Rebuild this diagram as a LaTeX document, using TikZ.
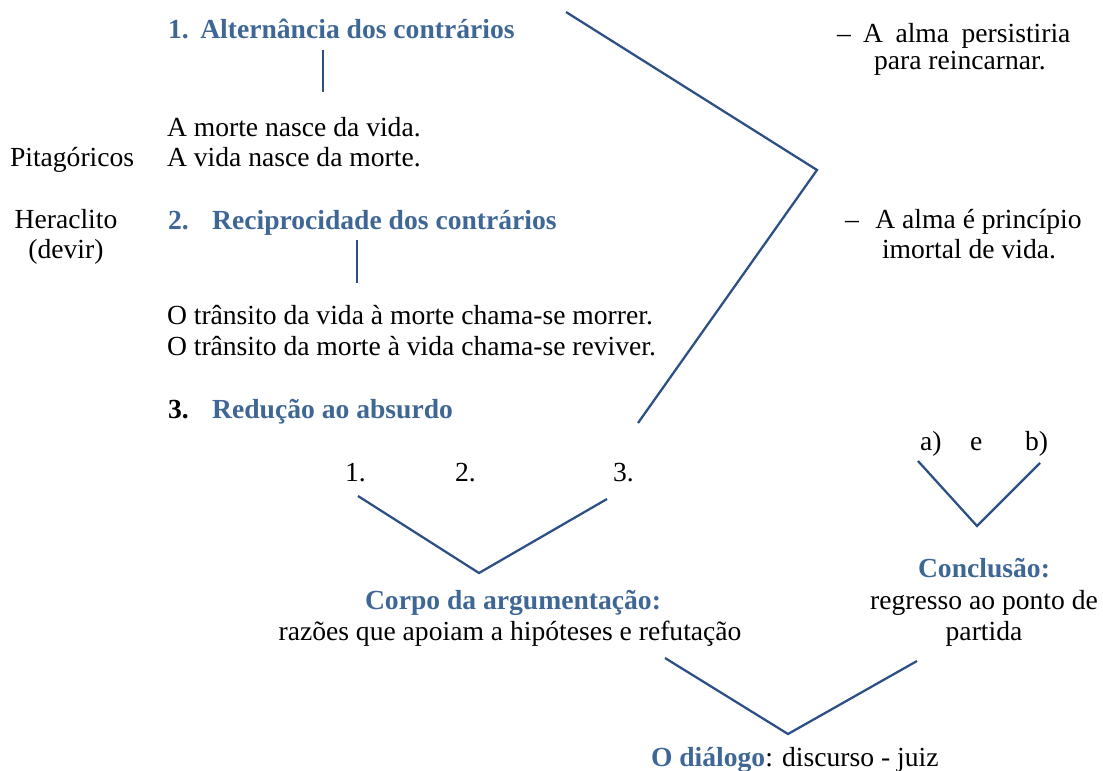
\documentclass[tikz,border=0pt]{standalone}
\usepackage{fontspec}
\setmainfont{Liberation Serif}
\definecolor{tblue}{HTML}{3F6796}
\definecolor{lblue}{HTML}{2C4F86}
\begin{document}
\begin{tikzpicture}[x=0.75pt,y=-0.75pt,
  every node/.style={inner sep=0pt,outer sep=0pt,font=\fontsize{20.7}{23}\selectfont},
  txt/.style={anchor=base west},
  ctxt/.style={anchor=base},
  hd/.style={text=tblue,font=\fontsize{20.7}{23}\selectfont\bfseries},
  link/.style={draw=lblue,line width=1.7pt}]
\useasboundingbox (0,0) rectangle (1103,771);
% left column
\node[txt,hd] (t1) at (168,38) {1.\hspace{0.42em}Alternância dos contrários};
\node[txt] (a1) at (167,136) {A morte nasce da vida.};
\node[txt] (a2) at (167,166) {A vida nasce da morte.};
\node[txt] (pit) at (10,166) {Pitagóricos};
\node[ctxt] (her) at (66,228) {Heraclito};
\node[ctxt] (dev) at (66,258) {(devir)};
\node[txt,hd] (t2) at (168,229) {2.\hspace{0.85em}Reciprocidade dos contrários};
\node[txt] (b1) at (167,324) {O trânsito da vida à morte chama-se morrer.};
\node[txt] (b2) at (167,355) {O trânsito da morte à vida chama-se reviver.};
\node[txt] (t3) at (168,418) {\textbf{3.}\hspace{0.85em}\textcolor{tblue}{\textbf{Redução ao absurdo}}};
\node[txt] (n1) at (345,481) {1.};
\node[txt] (n2) at (455,481) {2.};
\node[txt] (n3) at (613,481) {3.};
\node[ctxt,hd] (corpo) at (513,609) {Corpo da argumentação:};
\node[ctxt] (raz) at (510,640) {razões que apoiam a hipóteses e refutação};
\node[txt] (dia) at (651,766) {\textcolor{tblue}{\textbf{O diálogo}}: discurso - juiz};
% right column
\node[txt] (r1) at (837,42) {–\hspace{0.45em}A\hspace{0.45em}alma\hspace{0.45em}persistiria};
\node[txt] (r2) at (874,69) {para reincarnar.};
\node[txt] (r3) at (845,228) {–\hspace{0.6em}A alma é princípio};
\node[txt] (r4) at (882,258) {imortal de vida.};
\node[txt] (ra) at (920,450) {a)};
\node[txt] (re) at (970,450) {e};
\node[txt] (rb) at (1025,450) {b)};
\node[ctxt,hd] (conc) at (984,577) {Conclusão:};
\node[ctxt] (reg) at (984,609) {regresso ao ponto de};
\node[ctxt] (par) at (984,640) {partida};
% connector points
\coordinate (v1a) at (323,50);
\coordinate (v1b) at (323,92);
\coordinate (v2a) at (357,240);
\coordinate (v2b) at (357,283);
\coordinate (bigA) at (566,12);
\coordinate (bigV) at (817,170);
\coordinate (bigB) at (638,423);
\coordinate (c1a) at (358,496);
\coordinate (c1v) at (479,573);
\coordinate (c1b) at (607,499);
\coordinate (c2a) at (918,461);
\coordinate (c2v) at (977,526);
\coordinate (c2b) at (1040,463);
\coordinate (c3a) at (665,658);
\coordinate (c3v) at (788,734);
\coordinate (c3b) at (917,661);
\draw[link] (v1a) -- (v1b);
\draw[link] (v2a) -- (v2b);
\draw[link] (bigA) -- (bigV) -- (bigB);
\draw[link] (c1a) -- (c1v) -- (c1b);
\draw[link] (c2a) -- (c2v) -- (c2b);
\draw[link] (c3a) -- (c3v) -- (c3b);
\end{tikzpicture}
\end{document}
